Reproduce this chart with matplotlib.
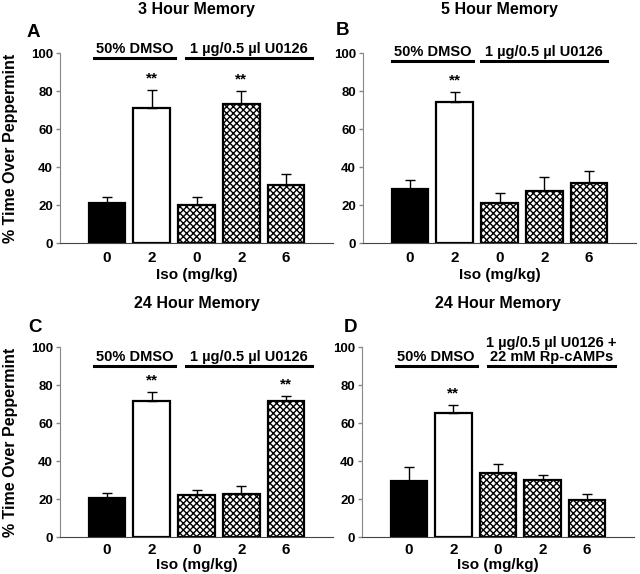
import numpy as np
import matplotlib
matplotlib.use('Agg')
from matplotlib import pyplot as plt

plt.rcParams['font.family'] = ['Liberation Sans', 'DejaVu Sans']
plt.rcParams['font.weight'] = 'bold'
plt.rcParams['axes.labelweight'] = 'bold'
plt.rcParams['axes.titleweight'] = 'bold'
plt.rcParams['hatch.linewidth'] = 1.0

# data (% time over peppermint, mean and upper SEM)
doses = ['0', '2', '0', '2', '6']
titles = ['3 Hour Memory', '5 Hour Memory', '24 Hour Memory', '24 Hour Memory']
letters = ['A', 'B', 'C', 'D']
group_left = '50% DMSO'
group_right = ['1 µg/0.5 µl U0126', '1 µg/0.5 µl U0126',
               '1 µg/0.5 µl U0126', '1 µg/0.5 µl U0126 +\n22 mM Rp-cAMPs']

mean_A = [21.0, 71.2, 19.8, 73.3, 30.4]
sem_A = [3.2, 9.2, 4.4, 6.7, 5.7]
mean_B = [28.4, 74.0, 20.9, 27.5, 31.4]
sem_B = [4.5, 5.3, 5.4, 7.0, 6.4]
mean_C = [20.5, 71.4, 22.3, 22.8, 71.8]
sem_C = [2.8, 4.7, 2.4, 4.0, 2.2]
mean_D = [29.5, 65.1, 33.7, 29.8, 19.3]
sem_D = [7.3, 4.5, 4.9, 3.0, 3.5]

sig_A = [1, 3]
sig_B = [1]
sig_C = [1, 4]
sig_D = [1]

means = [mean_A, mean_B, mean_C, mean_D]
sems = [sem_A, sem_B, sem_C, sem_D]
sigs = [sig_A, sig_B, sig_C, sig_D]

fig = plt.figure(figsize=(6.4, 5.74), dpi=100)
W, H = 640.0, 574.0
# axes boxes in pixels: left, right, top, bottom
boxes = [(60, 333, 53, 243), (363, 636, 53, 243),
         (60, 333, 347, 537), (362, 634, 347, 537)]
# group underline spans (data x) and y level
spans = [((-0.30, 1.53), (1.76, 4.58), 97.4),
         ((-0.41, 1.41), (1.59, 4.40), 95.8),
         ((-0.30, 1.53), (1.76, 4.58), 90.0),
         ((-0.29, 1.52), (1.77, 4.62), 90.0)]
letter_pos = [(27, 37), (336, 35), (28, 332), (344, 332)]

faces = ['black', 'white', 'white', 'white', 'white']
# 5 x's -> diamonds about 7 px wide, like the original
hatches = ['', '', 'xxxxx', 'xxxxx', 'xxxxx']

for i in range(4):
    l, r, t, b = boxes[i]
    ax = fig.add_axes([l / W, 1 - b / H, (r - l) / W, (b - t) / H])
    x = np.arange(len(doses))
    ax.bar(x, means[i], width=0.82, color=faces, edgecolor='black',
           linewidth=1.6, hatch=hatches, zorder=2)
    ax.errorbar(x, means[i], yerr=[np.zeros(5), sems[i]], fmt='none',
                ecolor='black', elinewidth=1, capsize=3.5, capthick=1, zorder=3)
    for k in sigs[i]:
        ax.text(x[k], means[i][k] + sems[i][k] + 2.5, '**', ha='center',
                va='bottom', fontsize=11, fontweight='bold')
    ax.set_xlim(-1.05, 5.05)
    ax.set_ylim(0, 100)
    ax.set_yticks([0, 20, 40, 60, 80, 100])
    ax.set_xticks(x)
    ax.set_xticklabels(doses, fontsize=11, fontweight='bold')
    ax.set_yticklabels(['0', '20', '40', '60', '80', '100'], fontsize=9.5,
                       fontweight='bold')
    top_row = i < 2
    ax.tick_params(axis='x', length=0, pad=6 if top_row else 4)
    ax.tick_params(axis='y', length=3, width=1, color='#888888', pad=2)
    for s in ['top', 'right']:
        ax.spines[s].set_visible(False)
    ax.spines['left'].set_color('#888888')
    ax.spines['bottom'].set_color('#444444')
    ax.set_xlabel('Iso (mg/kg)', fontsize=11, fontweight='bold',
                  labelpad=2 if top_row else 1)
    ax.set_title(titles[i], fontsize=11.5, fontweight='bold', pad=28)
    if i % 2 == 0:
        ax.set_ylabel('% Time Over Peppermint', fontsize=11.5,
                      fontweight='bold', labelpad=9)

    sl, sr, ly = spans[i]
    ax.plot(sl, [ly, ly], color='black', lw=2.2, clip_on=False)
    ax.plot(sr, [ly, ly], color='black', lw=2.2, clip_on=False)
    ax.text(np.mean(sl), ly + 2.6, group_left, ha='center', va='baseline',
            fontsize=10.5, fontweight='bold')
    ax.text(np.mean(sr), ly + 2.6, group_right[i], ha='center', va='baseline',
            fontsize=10.5, fontweight='bold', linespacing=1.0)

    lx, lyp = letter_pos[i]
    fig.text(lx / W, 1 - lyp / H, letters[i], fontsize=13.5, fontweight='bold',
             va='baseline', ha='left')

plt.savefig('out.png', dpi=100)
